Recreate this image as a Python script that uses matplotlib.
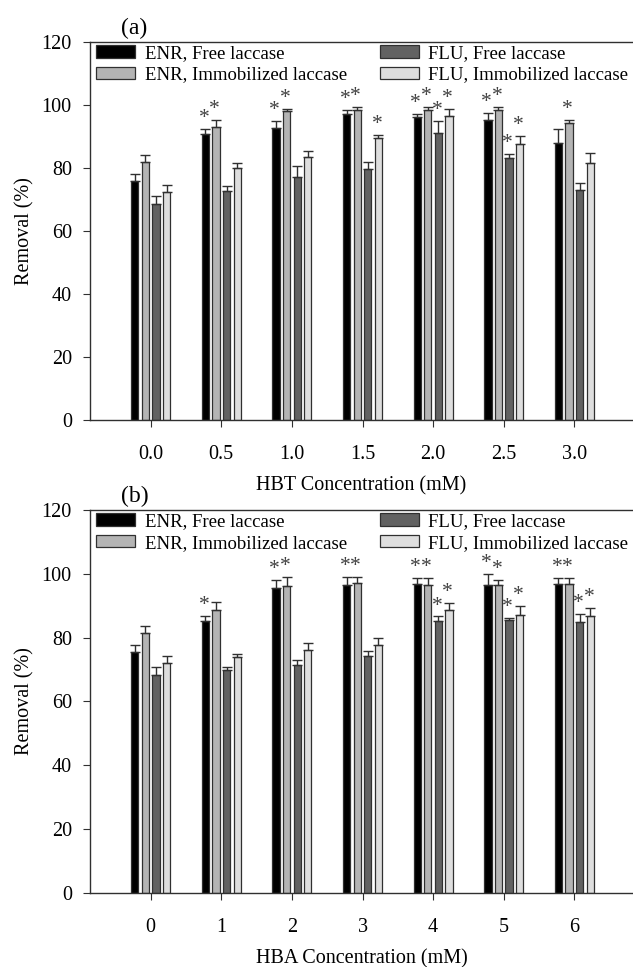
import numpy as np
import matplotlib
matplotlib.use("Agg")
import matplotlib.pyplot as plt

plt.rcParams['font.family'] = ['Liberation Serif', 'DejaVu Serif']

# ---- data ----
series_names = ["ENR, Free laccase", "ENR, Immobilized laccase",
                "FLU, Free laccase", "FLU, Immobilized laccase"]
series_colors = ["#000000", "#b4b4b4", "#626262", "#dedede"]

hbt_labels = ["0.0", "0.5", "1.0", "1.5", "2.0", "2.5", "3.0"]
hbt_enr_free = [75.9, 90.7, 92.8, 97.1, 96.0, 95.3, 87.9]
hbt_enr_imm = [81.8, 93.1, 98.1, 98.4, 98.3, 98.3, 94.3]
hbt_flu_free = [68.5, 72.7, 77.2, 79.7, 91.0, 83.0, 72.9]
hbt_flu_imm = [72.5, 80.0, 83.4, 89.4, 96.4, 87.5, 81.6]
hbt_enr_free_err = [2.2, 1.6, 2.1, 1.3, 1.1, 2.0, 4.4]
hbt_enr_imm_err = [2.3, 2.1, 0.6, 0.9, 1.0, 1.0, 0.9]
hbt_flu_free_err = [2.6, 1.4, 3.5, 2.2, 3.8, 1.3, 2.3]
hbt_flu_imm_err = [2.1, 1.5, 2.1, 1.0, 2.3, 2.5, 3.2]
# significance stars (1 = star)
hbt_stars = [[0, 1, 1, 1, 1, 1, 0],
             [0, 1, 1, 1, 1, 1, 1],
             [0, 0, 0, 0, 1, 1, 0],
             [0, 0, 0, 1, 1, 1, 0]]

hba_labels = ["0", "1", "2", "3", "4", "5", "6"]
hba_enr_free = [75.5, 85.2, 95.5, 96.5, 96.8, 96.5, 96.8]
hba_enr_imm = [81.4, 88.5, 96.2, 97.1, 96.5, 96.5, 96.8]
hba_flu_free = [68.2, 69.8, 71.5, 74.3, 85.2, 85.6, 84.9]
hba_flu_imm = [72.1, 73.9, 76.2, 77.7, 88.5, 87.1, 86.8]
hba_enr_free_err = [2.3, 1.5, 2.4, 2.5, 1.9, 3.3, 1.9]
hba_enr_imm_err = [2.3, 2.6, 2.9, 2.0, 2.2, 1.5, 1.9]
hba_flu_free_err = [2.5, 1.1, 1.4, 1.4, 1.4, 0.4, 2.4]
hba_flu_imm_err = [2.1, 0.8, 2.0, 2.0, 2.4, 2.8, 2.5]
hba_stars = [[0, 1, 1, 1, 1, 1, 1],
             [0, 0, 1, 1, 1, 1, 1],
             [0, 0, 0, 0, 1, 1, 1],
             [0, 0, 0, 0, 1, 1, 1]]


# draw one panel of grouped bars
def DrawPanel(ax, labels, values, errors, stars, xlabel, tag):
    x = np.arange(len(labels))
    pitch = 0.15
    width = 0.103
    handles = []
    for i in range(4):
        pos = x + (i - 1.5) * pitch
        err = np.array(errors[i])
        b = ax.bar(pos, values[i], width, color=series_colors[i],
                   edgecolor="#303030", linewidth=0.9, label=series_names[i],
                   yerr=[np.zeros_like(err), err], capsize=3.6,
                   error_kw=dict(ecolor="#303030", elinewidth=1.0, capthick=1.0))
        handles.append(b)
        for j in range(len(labels)):
            if stars[i][j]:
                ax.text(pos[j] - 0.02, values[i][j] + errors[i][j] + 0.3, "*",
                        ha="center", va="bottom", fontsize=15.5, color="#404040")
    ax.set_xlim(-0.86, 6.83)
    ax.set_ylim(0, 120)
    ax.set_yticks(np.arange(0, 121, 20))
    ax.set_xticks(x)
    ax.set_xticklabels(labels)
    ax.tick_params(axis="x", direction="out", length=5, pad=13, labelsize=14.5,
                   color="#303030")
    ax.tick_params(axis="y", direction="out", length=5, pad=8, labelsize=14.5,
                   color="#303030")
    for s in ["left", "bottom", "top"]:
        ax.spines[s].set_color("#303030")
        ax.spines[s].set_linewidth(1.0)
    ax.spines["right"].set_visible(False)
    ax.set_ylabel("Removal (%)", fontsize=14.5, labelpad=5)
    ax.set_xlabel(xlabel, fontsize=14.5, labelpad=9)
    ax.legend(handles=handles, ncol=2, loc="upper left",
              bbox_to_anchor=(0.011, 0.992), frameon=False, fontsize=13.5,
              handlelength=2.1, handleheight=0.65, handletextpad=0.5,
              columnspacing=1.75, labelspacing=0.25, borderpad=0,
              borderaxespad=0)
    ax.text(0.058, 1.008, tag, transform=ax.transAxes, fontsize=17,
            ha="left", va="bottom")


fig = plt.figure(figsize=(6.33, 9.67), dpi=100)
ax1 = fig.add_axes([0.142, 0.5657, 0.858, 0.391])
ax2 = fig.add_axes([0.142, 0.077, 0.858, 0.3956])

DrawPanel(ax1, hbt_labels,
          [hbt_enr_free, hbt_enr_imm, hbt_flu_free, hbt_flu_imm],
          [hbt_enr_free_err, hbt_enr_imm_err, hbt_flu_free_err, hbt_flu_imm_err],
          hbt_stars, "HBT Concentration (mM)", "(a)")
DrawPanel(ax2, hba_labels,
          [hba_enr_free, hba_enr_imm, hba_flu_free, hba_flu_imm],
          [hba_enr_free_err, hba_enr_imm_err, hba_flu_free_err, hba_flu_imm_err],
          hba_stars, "HBA Concentration (mM)", "(b)")

fig.savefig("out.png", dpi=100)
plt.close(fig)
